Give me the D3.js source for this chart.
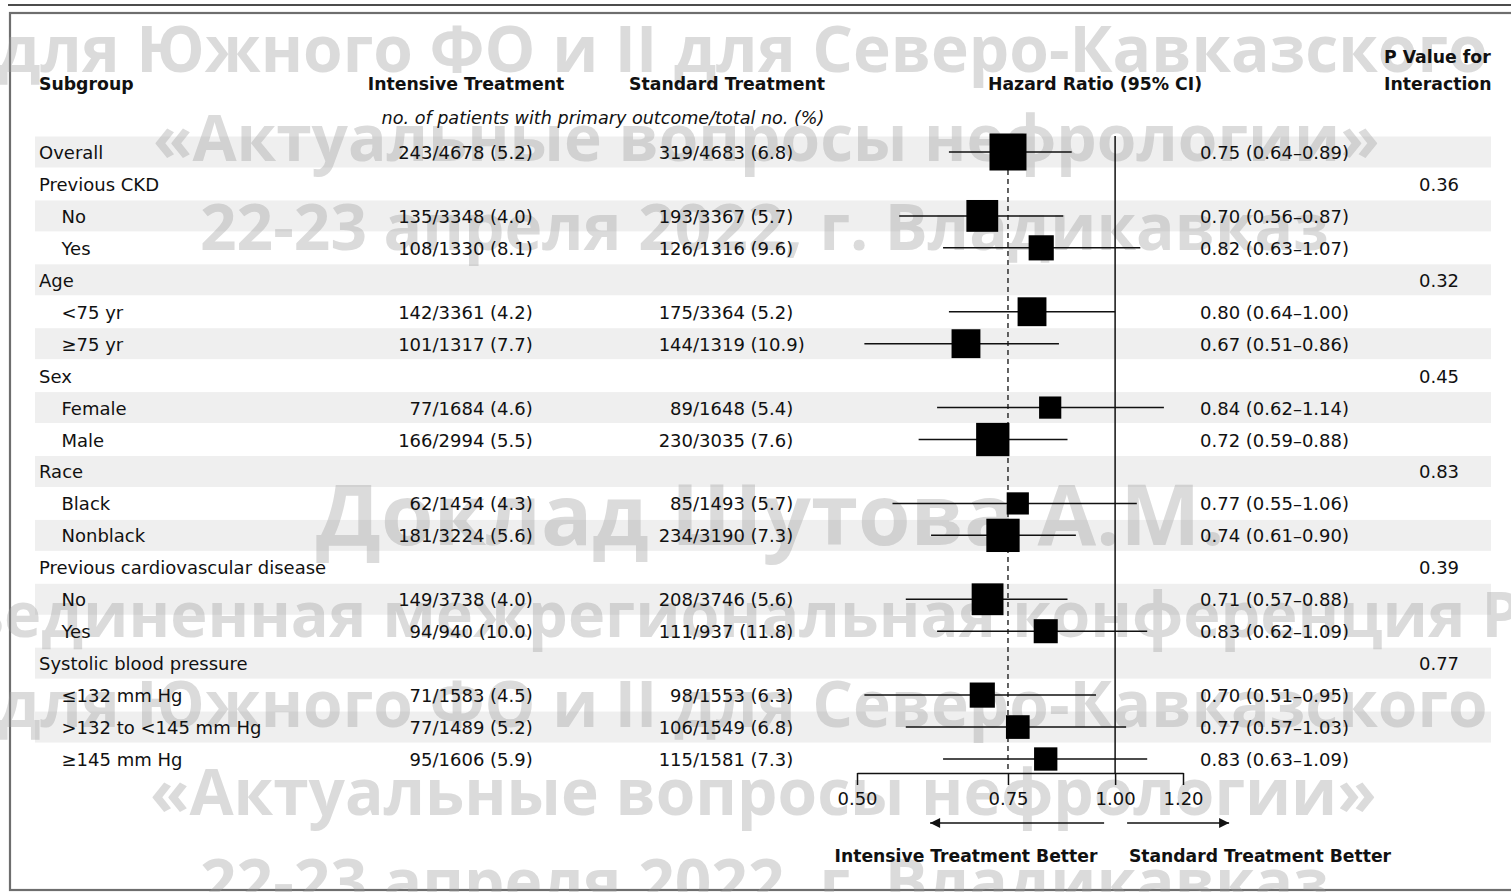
<!DOCTYPE html>
<html>
<head>
<meta charset="utf-8">
<script src="https://cdn.jsdelivr.net/npm/d3@7/dist/d3.min.js"></script>
<style>
  html, body { margin: 0; padding: 0; background: #ffffff; }
  svg { display: block; }
</style>
</head>
<body>
<svg id="chart" width="1511" height="892"></svg>
<script>
// ---- Subgroup rows ----
const subgroups = ["Overall", "Previous CKD", "No", "Yes", "Age", "<75 yr", "\u226575 yr",
  "Sex", "Female", "Male", "Race", "Black", "Nonblack", "Previous cardiovascular disease",
  "No", "Yes", "Systolic blood pressure", "\u2264132 mm Hg", ">132 to <145 mm Hg", "\u2265145 mm Hg"];
const indentLevel = [0, 0, 1, 1, 0, 1, 1, 0, 1, 1, 0, 1, 1, 0, 1, 1, 0, 1, 1, 1];

// ---- Intensive treatment: events / total (%) ----
const intensiveEvents = [243, null, 135, 108, null, 142, 101, null, 77, 166, null, 62, 181, null, 149, 94, null, 71, 77, 95];
const intensiveTotal  = [4678, null, 3348, 1330, null, 3361, 1317, null, 1684, 2994, null, 1454, 3224, null, 3738, 940, null, 1583, 1489, 1606];
const intensivePct    = ["5.2", null, "4.0", "8.1", null, "4.2", "7.7", null, "4.6", "5.5", null, "4.3", "5.6", null, "4.0", "10.0", null, "4.5", "5.2", "5.9"];

// ---- Standard treatment: events / total (%) ----
const standardEvents = [319, null, 193, 126, null, 175, 144, null, 89, 230, null, 85, 234, null, 208, 111, null, 98, 106, 115];
const standardTotal  = [4683, null, 3367, 1316, null, 3364, 1319, null, 1648, 3035, null, 1493, 3190, null, 3746, 937, null, 1553, 1549, 1581];
const standardPct    = ["6.8", null, "5.7", "9.6", null, "5.2", "10.9", null, "5.4", "7.6", null, "5.7", "7.3", null, "5.6", "11.8", null, "6.3", "6.8", "7.3"];

// ---- Hazard ratios with 95% CI ----
const hazardRatio = [0.75, null, 0.70, 0.82, null, 0.80, 0.67, null, 0.84, 0.72, null, 0.77, 0.74, null, 0.71, 0.83, null, 0.70, 0.77, 0.83];
const ciLower     = [0.64, null, 0.56, 0.63, null, 0.64, 0.51, null, 0.62, 0.59, null, 0.55, 0.61, null, 0.57, 0.62, null, 0.51, 0.57, 0.63];
const ciUpper     = [0.89, null, 0.87, 1.07, null, 1.00, 0.86, null, 1.14, 0.88, null, 1.06, 0.90, null, 0.88, 1.09, null, 0.95, 1.03, 1.09];
// relative box weight (overall = 100)
const boxWeight   = [100, null, 86, 68, null, 78, 78, null, 60, 90, null, 60, 90, null, 86, 65, null, 68, 64, 63];

// ---- P value for interaction (on group header rows) ----
const pInteraction = [null, "0.36", null, null, "0.32", null, null, "0.45", null, null, "0.83", null, null, "0.39", null, null, "0.77", null, null, null];

// ---- Axis ----
const axisTicks = [0.50, 0.75, 1.00, 1.20];
const axisDomain = [0.50, 1.20];
const overallRef = 0.75;   // dashed reference at overall hazard ratio
const nullValue = 1.00;

// ---- Background overlay lines ----
const overlayLines = [
  "для Южного ФО и II для Северо-Кавказского",
  "«Актуальные вопросы нефрологии»",
  "22-23 апреля 2022, г. Владикавказ",
  "Доклад Шутова А.М.",
  "Объединенная межрегиональная конференция РДО",
  "для Южного ФО и II для Северо-Кавказского",
  "«Актуальные вопросы нефрологии»",
  "22-23 апреля 2022, г. Владикавказ"
];

// =====================================================
const W = 1511, H = 892;
const svg = d3.select("#chart");
const FONT = "'DejaVu Sans', sans-serif";
const n = subgroups.length;

const y = d3.scalePoint().domain(d3.range(n)).range([152, 759]);
const step = y.step();
const x = d3.scaleLog().domain(axisDomain).range([857, 1183]);
const boxSize = d3.scaleLinear().domain([0, 100]).range([0, 37]);

// frame
svg.append("line").attr("x1", 8).attr("x2", W).attr("y1", 5).attr("y2", 5)
  .attr("stroke", "#111").attr("stroke-width", 1.3);
svg.append("rect").attr("x", 10).attr("y", 13).attr("width", W + 20).attr("height", 877)
  .attr("fill", "none").attr("stroke", "#6e6e6e").attr("stroke-width", 2.2);

// alternating row bands
svg.append("g").selectAll("rect")
  .data(d3.range(0, n, 2))
  .join("rect")
  .attr("x", 35).attr("width", 1456)
  .attr("y", i => y(i) - step / 2 + 0.5).attr("height", step - 1)
  .attr("fill", "#efefef");

// overlay text layer: [x, baseline y, font size]
const overlayPos = [
  [-2, 72, 64], [153, 161, 64], [200, 250, 64], [316, 545, 85],
  [-130, 637, 63], [-2, 727, 64], [150, 815, 64], [200, 905, 64]
];
svg.append("g")
  .attr("font-family", "'Open Sans', sans-serif")
  .attr("font-weight", 700)
  .attr("fill", "#9a9a9a")
  .attr("fill-opacity", 0.36)
  .selectAll("text")
  .data(overlayLines)
  .join("text")
  .attr("x", (d, i) => overlayPos[i][0])
  .attr("y", (d, i) => overlayPos[i][1])
  .attr("font-size", (d, i) => overlayPos[i][2])
  .text(d => d);

// ---- Column headers ----
const hdr = svg.append("g").attr("font-family", FONT).attr("font-weight", "bold")
  .attr("font-size", 17.3).attr("fill", "#111");
hdr.append("text").attr("x", 39).attr("y", 90).text("Subgroup");
hdr.append("text").attr("x", 466).attr("y", 90).attr("text-anchor", "middle").text("Intensive Treatment");
hdr.append("text").attr("x", 727).attr("y", 90).attr("text-anchor", "middle").text("Standard Treatment");
hdr.append("text").attr("x", 1095).attr("y", 90).attr("text-anchor", "middle").text("Hazard Ratio (95% CI)");
hdr.append("text").attr("x", 1384).attr("y", 63).text("P Value for");
hdr.append("text").attr("x", 1384).attr("y", 90).text("Interaction");

svg.append("text").attr("font-family", FONT).attr("font-style", "italic")
  .attr("font-size", 17.6).attr("fill", "#111")
  .attr("x", 603).attr("y", 124).attr("text-anchor", "middle")
  .text("no. of patients with primary outcome/total no. (%)");

// ---- Row text ----
const body = svg.append("g").attr("font-family", FONT).attr("font-size", 18).attr("fill", "#111");
const base = 7;
const rows = d3.range(n);

body.selectAll("text.sub").data(rows).join("text").attr("class", "sub")
  .attr("x", i => indentLevel[i] ? 61.5 : 39)
  .attr("y", i => y(i) + base)
  .text(i => subgroups[i]);

function countColumn(cls, slashX, ev, tot, pct) {
  const idx = rows.filter(i => ev[i] != null);
  body.selectAll("text." + cls + "a").data(idx).join("text").attr("class", cls + "a")
    .attr("x", slashX).attr("y", i => y(i) + base).attr("text-anchor", "end")
    .text(i => ev[i]);
  body.selectAll("text." + cls + "b").data(idx).join("text").attr("class", cls + "b")
    .attr("x", slashX).attr("y", i => y(i) + base)
    .text(i => "/" + tot[i] + " (" + pct[i] + ")");
}
countColumn("int", 432.5, intensiveEvents, intensiveTotal, intensivePct);
countColumn("std", 693, standardEvents, standardTotal, standardPct);

const f2 = d3.format(".2f");
const hrRows = rows.filter(i => hazardRatio[i] != null);
body.selectAll("text.hr").data(hrRows).join("text").attr("class", "hr")
  .attr("x", 1200).attr("y", i => y(i) + base)
  .text(i => f2(hazardRatio[i]) + " (" + f2(ciLower[i]) + "\u2013" + f2(ciUpper[i]) + ")");

body.selectAll("text.pv").data(rows.filter(i => pInteraction[i] != null)).join("text").attr("class", "pv")
  .attr("x", 1439).attr("y", i => y(i) + base).attr("text-anchor", "middle")
  .text(i => pInteraction[i]);

// ---- Forest plot ----
const axisY = 773;
const plot = svg.append("g");

// dashed line at overall estimate
plot.append("line")
  .attr("x1", x(overallRef)).attr("x2", x(overallRef))
  .attr("y1", y(0)).attr("y2", axisY)
  .attr("stroke", "#222").attr("stroke-width", 1.4).attr("stroke-dasharray", "5,4");

// line of no effect
plot.append("line")
  .attr("x1", x(nullValue)).attr("x2", x(nullValue))
  .attr("y1", y(0) - step / 2).attr("y2", axisY)
  .attr("stroke", "#111").attr("stroke-width", 1.5);

// confidence intervals
plot.selectAll("line.ci").data(hrRows).join("line").attr("class", "ci")
  .attr("x1", i => x(ciLower[i])).attr("x2", i => x(ciUpper[i]))
  .attr("y1", i => y(i)).attr("y2", i => y(i))
  .attr("stroke", "#111").attr("stroke-width", 1.5);

// point estimates
plot.selectAll("rect.pt").data(hrRows).join("rect").attr("class", "pt")
  .attr("x", i => x(hazardRatio[i]) - boxSize(boxWeight[i]) / 2)
  .attr("y", i => y(i) - boxSize(boxWeight[i]) / 2)
  .attr("width", i => boxSize(boxWeight[i]))
  .attr("height", i => boxSize(boxWeight[i]))
  .attr("fill", "#000");

// axis
const axis = d3.axisBottom(x).tickValues(axisTicks).tickFormat(f2)
  .tickSize(12).tickSizeOuter(0).tickPadding(7);
const ax = svg.append("g").attr("transform", `translate(0,${axisY})`).call(axis);
ax.select(".domain").attr("stroke", "#111").attr("stroke-width", 1.5);
ax.selectAll(".tick line").attr("stroke", "#111").attr("stroke-width", 1.5);
ax.selectAll(".tick text").attr("font-family", FONT).attr("font-size", 18).attr("fill", "#111");

// direction arrows
const defs = svg.append("defs");
defs.append("marker").attr("id", "arrowHead").attr("viewBox", "0 0 10 10")
  .attr("refX", 10).attr("refY", 5).attr("markerWidth", 16).attr("markerHeight", 10)
  .attr("markerUnits", "userSpaceOnUse").attr("orient", "auto")
  .append("path").attr("d", "M0,0 L10,5 L0,10 Z").attr("fill", "#111");

const arrowY = 823;
const x1 = x(nullValue);
svg.append("line").attr("x1", x1 - 11).attr("x2", x1 - 185).attr("y1", arrowY).attr("y2", arrowY)
  .attr("stroke", "#111").attr("stroke-width", 1.5).attr("marker-end", "url(#arrowHead)");
svg.append("line").attr("x1", x1 + 12).attr("x2", x1 + 114).attr("y1", arrowY).attr("y2", arrowY)
  .attr("stroke", "#111").attr("stroke-width", 1.5).attr("marker-end", "url(#arrowHead)");

const foot = svg.append("g").attr("font-family", FONT).attr("font-weight", "bold")
  .attr("font-size", 17.2).attr("fill", "#111").attr("text-anchor", "middle");
foot.append("text").attr("x", 966).attr("y", 862).text("Intensive Treatment Better");
foot.append("text").attr("x", 1260).attr("y", 862).text("Standard Treatment Better");
</script>
</body>
</html>
